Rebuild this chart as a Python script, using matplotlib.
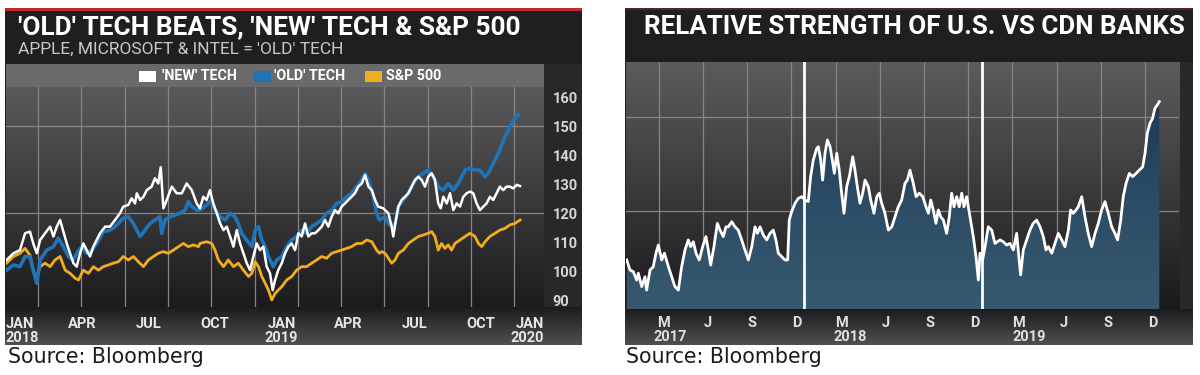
import numpy as np
import matplotlib
matplotlib.use("Agg")
import matplotlib.pyplot as plt
from matplotlib.patches import Rectangle, Polygon
from matplotlib.colors import LinearSegmentedColormap
from matplotlib.transforms import blended_transform_factory

W, H = 1200, 375
NARROW = ['Liberation Sans Narrow', 'Roboto', 'DejaVu Sans']

# ---------------- Left chart data (x = months since 1 Jan 2018) ----------------
new_tech_x = [0.10, 0.40, 0.70, 0.93, 1.15, 1.30, 1.46, 1.61, 1.83, 2.06,
              2.21, 2.36, 2.51, 2.66, 2.81, 2.96, 3.11, 3.26, 3.41, 3.56,
              3.71, 3.86, 4.01, 4.16, 4.31, 4.54, 4.76, 4.99, 5.21, 5.36,
              5.59, 5.74, 5.89, 5.97, 6.12, 6.27, 6.42, 6.64, 6.79, 6.94,
              7.05, 7.17, 7.32, 7.55, 7.77, 8.00, 8.22, 8.45, 8.67,
              8.82, 8.97, 9.12, 9.27, 9.42, 9.58, 9.73, 9.88, 10.03, 10.18,
              10.33, 10.48, 10.63, 10.78, 10.93, 11.08, 11.23, 11.38, 11.53, 11.68,
              11.83, 11.98, 12.10, 12.21, 12.35, 12.51, 12.66, 12.81, 12.96, 13.11,
              13.26, 13.41, 13.56, 13.71, 13.86, 14.01, 14.16, 14.31, 14.46, 14.61,
              14.76, 14.91, 15.06, 15.21, 15.36, 15.51, 15.66, 15.81, 15.96, 16.12,
              16.27, 16.42, 16.57, 16.72, 16.86,
              17.09, 17.32, 17.47, 17.54, 17.66, 17.77, 17.92, 18.07, 18.22, 18.37,
              18.52, 18.67, 18.82, 18.97, 19.12, 19.27, 19.42, 19.57, 19.68, 19.80,
              19.95, 20.10, 20.25, 20.40, 20.55, 20.70, 20.85, 21.00, 21.15, 21.30,
              21.45, 21.60, 21.75, 21.90, 22.05, 22.20, 22.35, 22.50, 22.65, 22.80,
              22.95, 23.11, 23.26]
new_tech_y = [103.8, 106.1, 107.2, 113.0, 113.6, 109.5, 106.1, 110.7, 113.0, 115.3,
              111.9, 115.3, 117.6, 113.6, 109.5, 106.1, 102.7, 101.5, 106.1, 109.5,
              107.2, 105.0, 108.4, 110.7, 113.0, 115.3, 115.3, 117.6, 119.9, 122.2,
              122.8, 125.1, 123.3, 126.8, 124.5, 125.6, 127.9, 129.1, 132.0, 130.2,
              135.8, 121.6, 124.5, 129.1, 126.8, 126.8, 130.2, 127.9, 123.3,
              121.6, 125.6, 124.5, 127.9, 123.3, 119.9, 116.4, 114.1, 115.3, 111.9,
              108.4, 114.1, 109.5, 106.1, 102.7, 100.3, 105.0, 109.5, 107.2, 108.4,
              101.5, 99.2, 93.4, 96.9, 100.3, 102.7, 106.1, 108.4, 109.5, 107.2,
              113.0, 111.9, 116.4, 111.9, 113.0, 113.0, 114.1, 115.3, 117.6, 115.3,
              118.7, 121.0, 119.9, 122.2, 123.3, 124.5, 125.6, 126.8, 129.1, 130.2,
              133.1, 129.1, 127.9, 124.5, 122.2,
              121.6, 119.9, 115.3, 111.9, 117.6, 122.2, 124.5, 125.6, 126.8, 129.1,
              131.4, 132.5, 131.4, 129.1, 132.5, 133.7, 131.4, 123.3, 121.6, 125.6,
              123.3, 126.8, 121.0, 123.3, 122.2, 125.6, 126.8, 127.4, 126.8, 123.3,
              121.0, 122.2, 123.3, 125.6, 124.5, 126.8, 129.1, 127.9, 129.1, 129.1,
              128.5, 129.7, 129.3]

old_tech_x = [0.10, 0.40, 0.70, 0.93, 1.15, 1.30, 1.46, 1.61, 1.91, 2.21,
              2.43, 2.66, 2.89, 3.11, 3.26, 3.49, 3.71, 3.94, 4.16, 4.46,
              4.76, 4.99, 5.21, 5.36, 5.59, 5.82, 5.97, 6.12, 6.34, 6.57,
              6.79, 7.02, 7.09, 7.24, 7.47, 7.69, 7.92, 8.15, 8.30, 8.45,
              8.67,
              8.82, 9.12, 9.35, 9.50, 9.73, 9.95, 10.18, 10.40, 10.55, 10.70,
              10.93, 11.16, 11.31, 11.46, 11.61, 11.76, 11.91, 12.13, 12.28, 12.51,
              12.73, 12.96, 13.18, 13.41, 13.63, 13.86, 14.08, 14.31, 14.53, 14.76,
              14.99, 15.21, 15.44, 15.66, 15.89, 16.12, 16.27, 16.42, 16.64, 16.79,
              16.91,
              17.17, 17.32, 17.47, 17.62, 17.77, 17.99, 18.22, 18.44, 18.67, 18.89,
              19.12, 19.35, 19.57, 19.80, 20.02, 20.25, 20.47, 20.63, 20.78, 21.00,
              21.23, 21.45, 21.68, 21.83, 21.98, 22.13, 22.28, 22.43, 22.58, 22.73,
              22.88, 23.03, 23.18]
old_tech_y = [100.3, 102.1, 101.5, 105.0, 105.0, 100.3, 95.8, 103.8, 107.2, 108.4,
              111.3, 108.4, 105.0, 103.8, 106.1, 108.4, 106.1, 107.2, 109.5, 113.6,
              114.1, 115.3, 117.0, 118.2, 118.7, 116.4, 114.1, 111.9, 114.1, 116.4,
              117.6, 118.7, 113.0, 117.6, 118.7, 119.3, 119.9, 121.0, 123.9, 122.2,
              121.0,
              121.0, 122.8, 124.5, 121.0, 118.7, 117.6, 119.9, 118.7, 116.4, 113.0,
              110.7, 108.4, 114.1, 115.3, 110.7, 108.4, 105.0, 101.5, 103.8, 105.0,
              108.4, 110.7, 111.9, 114.1, 113.0, 115.3, 116.4, 117.6, 119.9, 121.0,
              123.3, 123.9, 125.6, 126.8, 129.1, 131.4, 133.7, 131.4, 125.6, 119.9,
              117.6,
              118.7, 116.4, 115.3, 116.4, 122.2, 124.5, 126.8, 130.2, 132.5, 133.7,
              134.8, 132.5, 129.1, 127.9, 130.2, 127.9, 130.2, 132.5, 134.8, 135.4,
              134.8, 134.8, 132.5, 133.7, 136.0, 138.3, 140.6, 143.4, 146.3, 148.6,
              150.9, 152.6, 153.8]

spx_x = [0.10, 0.40, 0.70, 0.93, 1.15, 1.30, 1.42, 1.61, 1.83, 2.06,
         2.28, 2.51, 2.74, 2.96, 3.19, 3.34, 3.56, 3.79, 4.01, 4.24,
         4.46, 4.69, 4.91, 5.14, 5.36, 5.59, 5.82, 6.04, 6.27, 6.49,
         6.72, 6.94, 7.17, 7.39, 7.62, 7.85, 8.07, 8.30, 8.52, 8.75,
         8.82, 9.12, 9.35, 9.50, 9.65, 9.88, 10.10, 10.33, 10.55, 10.78,
         11.01, 11.16, 11.31, 11.46, 11.61, 11.76, 11.91, 12.06, 12.21, 12.35,
         12.51, 12.73, 12.96, 13.18, 13.41, 13.63, 13.86, 14.08, 14.31, 14.53,
         14.76, 14.99, 15.21, 15.44, 15.66, 15.89, 16.12, 16.34, 16.57, 16.79,
         16.91,
         17.02, 17.17, 17.32, 17.47, 17.62, 17.77, 17.99, 18.22, 18.44, 18.67,
         18.89, 19.12, 19.27, 19.42, 19.57, 19.72, 19.87, 20.02, 20.17, 20.32,
         20.55, 20.78, 21.00, 21.23, 21.38, 21.53, 21.68, 21.90, 22.13, 22.35,
         22.58, 22.80, 23.03, 23.26]
spx_y = [102.7, 105.0, 106.1, 107.8, 105.5, 100.3, 96.9, 101.5, 102.7, 101.5,
         103.8, 105.0, 100.3, 99.2, 97.5, 96.9, 100.3, 99.2, 101.5, 100.3,
         101.5, 102.1, 102.7, 103.2, 105.0, 103.8, 105.0, 103.2, 101.5, 103.8,
         105.0, 106.1, 106.7, 106.1, 107.2, 108.4, 109.5, 108.4, 109.0, 108.4,
         109.5, 110.1, 109.5, 107.2, 103.8, 101.5, 103.8, 101.5, 102.7, 100.3,
         98.1, 99.2, 103.2, 101.5, 98.1, 95.8, 93.4, 90.0, 92.3, 93.4,
         94.6, 96.9, 98.1, 100.3, 101.5, 101.5, 102.7, 103.8, 105.0, 104.4,
         106.1, 106.7, 107.2, 107.8, 108.4, 109.5, 109.5, 110.7, 110.1, 107.2,
         106.1,
         106.7, 106.1, 104.4, 102.7, 103.8, 106.1, 107.2, 109.5, 110.7, 111.9,
         112.4, 113.0, 113.6, 111.9, 107.2, 109.5, 107.8, 109.0, 107.2, 109.5,
         110.7, 111.9, 113.0, 111.9, 109.5, 108.4, 110.1, 111.9, 113.0, 114.1,
         114.7, 115.9, 116.4, 117.6]

left_yticks = [90, 100, 110, 120, 130, 140, 150, 160]
left_xtick_pos = [0.07, 3.5, 6.5, 9.5, 12.5, 15.5, 18.5, 21.5, 24.34]
left_xtick_labels = ["JAN\n2018", "APR", "JUL", "OCT", "JAN\n2019", "APR", "JUL", "OCT", "JAN\n2020"]
legend_labels = ["'NEW' TECH", "'OLD' TECH", "S&P 500"]

# ---------------- Right chart data (x = months since 1 Jan 2017, unlabeled index) ----------------
rs_x = [0.05, 0.27, 0.49, 0.72, 0.83, 1.06, 1.28, 1.39, 1.62, 1.84,
        2.02, 2.18, 2.41, 2.59, 2.86, 3.08, 3.30, 3.53, 3.75, 3.98,
        4.20, 4.36, 4.54, 4.72, 4.94, 5.17, 5.39, 5.55, 5.71, 5.93,
        6.16, 6.34, 6.56, 6.74, 6.90, 7.13, 7.35, 7.57, 7.80, 8.02,
        8.25, 8.48, 8.70, 8.86, 9.04, 9.26, 9.49, 9.71, 9.93, 10.11,
        10.27, 10.50, 10.72, 10.90, 11.01, 11.17, 11.40, 11.62, 11.85, 12.07,
        12.29, 12.45, 12.63, 12.86,
        12.97, 13.13, 13.26, 13.42, 13.58, 13.76, 13.91, 14.05, 14.21, 14.38,
        14.54, 14.70, 14.88, 15.06, 15.29, 15.44, 15.60, 15.78, 15.96, 16.12,
        16.34, 16.50, 16.72, 16.91, 17.08, 17.24, 17.46, 17.69, 17.92, 18.14,
        18.36, 18.59, 18.81, 18.97, 19.15, 19.37, 19.56, 19.78, 20.01, 20.23,
        20.39, 20.55, 20.72, 20.90, 21.06, 21.22, 21.40, 21.62, 21.80, 21.96,
        22.12, 22.30, 22.47, 22.64, 22.79, 22.97, 23.20, 23.42, 23.60, 23.76,
        23.87, 24.05, 24.21, 24.43, 24.66, 24.88,
        25.22, 25.44, 25.67, 25.89, 26.12, 26.34, 26.61, 26.79, 27.02, 27.24,
        27.46, 27.69, 27.92, 28.14, 28.32, 28.48, 28.71, 28.93, 29.15, 29.38,
        29.60, 29.83, 29.98, 30.16, 30.34, 30.50, 30.73, 30.95, 31.17, 31.40,
        31.63, 31.85, 32.07, 32.30, 32.52, 32.75, 32.97, 33.15, 33.36, 33.53,
        33.72, 33.94, 34.17, 34.39, 34.61, 34.84, 35.00, 35.15, 35.33, 35.51,
        35.67, 35.83, 35.96]
rs_y = [18.9, 14.6, 13.9, 10.3, 13.2, 7.5, 11.7, 6.0, 14.6, 16.0,
        21.8, 25.3, 18.9, 21.8, 16.0, 11.7, 7.5, 6.0, 16.0, 23.2,
        27.5, 24.6, 26.7, 21.8, 18.9, 24.6, 28.9, 23.2, 16.7, 24.6,
        34.6, 31.7, 28.9, 33.1, 33.1, 35.3, 33.1, 31.7, 27.5, 23.2,
        18.9, 24.6, 33.1, 30.3, 33.1, 29.6, 27.5, 30.3, 31.7, 27.5,
        21.8, 20.3, 18.9, 18.9, 36.0, 39.6, 43.2, 45.3, 46.0, 44.6,
        43.9, 54.6, 61.7, 66.7,
        67.4, 61.7, 53.1, 64.6, 70.3, 67.4, 61.7, 56.0, 64.6, 57.4,
        47.5, 38.9, 50.3, 54.6, 63.1, 57.4, 50.3, 43.2, 47.5, 53.1,
        50.3, 44.6, 38.9, 46.0, 47.5, 43.2, 38.9, 31.7, 33.1, 37.4,
        41.7, 44.6, 51.7, 53.1, 57.4, 51.7, 46.0, 47.5, 46.0, 41.7,
        38.9, 44.6, 40.3, 34.6, 40.3, 37.4, 36.0, 30.3, 37.4, 47.5,
        41.7, 46.0, 41.7, 47.5, 41.7, 46.0, 37.4, 28.9, 20.3, 10.3,
        21.8, 18.9, 24.6, 33.1, 31.7, 26.0,
        27.5, 26.7, 25.3, 26.0, 23.2, 30.3, 12.5, 23.2, 27.5, 31.7,
        34.6, 36.0, 33.1, 28.9, 23.2, 24.6, 21.8, 26.0, 30.3, 27.5,
        24.6, 31.7, 40.3, 38.9, 40.3, 41.7, 46.0, 37.4, 30.3, 24.6,
        30.3, 34.6, 40.3, 43.9, 38.9, 33.1, 30.3, 27.5, 36.0, 46.0,
        51.7, 56.0, 54.6, 56.0, 57.4, 58.8, 64.6, 73.1, 77.4, 79.6,
        83.9, 85.3, 86.7]
right_month_labels = ["M", "J", "S", "D"] * 3
right_month_pos = [2.5, 5.5, 8.5, 11.5, 14.5, 17.5, 20.5, 23.5, 26.5, 29.5, 32.5, 35.5]
right_year_labels = ["2017", "2018", "2019"]
right_year_pos = [3.0, 15.1, 27.2]
year_breaks = [12, 24]


def rect(x0, y0, x1, y1):
    return [x0 / W, 1 - y1 / H, (x1 - x0) / W, (y1 - y0) / H]


fig = plt.figure(figsize=(W / 100, H / 100), dpi=100)
fig.patch.set_facecolor('white')

bg = fig.add_axes([0, 0, 1, 1], zorder=0)
bg.set_autoscale_on(False)
bg.set_xlim(0, W)
bg.set_ylim(H, 0)
bg.axis('off')


def vgrad(ax, x0, x1, y0, y1, ctop, cbot, z=0.5, transform=None):
    cmap = LinearSegmentedColormap.from_list('g', [ctop, cbot])
    kw = dict(extent=[x0, x1, y1, y0], origin='upper', aspect='auto', cmap=cmap,
              zorder=z, interpolation='bicubic')
    if transform is not None:
        kw['transform'] = transform
    return ax.imshow(np.linspace(0, 1, 256).reshape(-1, 1), **kw)


def box(x0, y0, x1, y1, color, z=0.2):
    bg.add_patch(Rectangle((x0, y0), x1 - x0, y1 - y0, facecolor=color, edgecolor='none', zorder=z))


# ---------- left panel frame ----------
box(5, 8, 582, 345, '#1f1f21')
box(5, 8, 582, 10.5, '#c8262d', z=0.3)
box(6, 64, 544, 87, '#6a6a6a', z=0.3)
box(544, 64, 582, 307, '#28282a', z=0.3)
vgrad(bg, 5, 582, 307, 345, '#1c1c1e', '#505052', z=0.3)

bg.text(18, 27, "'OLD' TECH BEATS, 'NEW' TECH & S&P 500", color='white', fontsize=18.9,
        fontweight='bold', va='center', ha='left', family=NARROW, zorder=3)
bg.text(18, 49, "APPLE, MICROSOFT & INTEL = 'OLD' TECH", color='#c8c8c8', fontsize=12.5,
        va='center', ha='left', family=NARROW, zorder=3)

leg_colors = ['#ffffff', '#1f74b9', '#f2ad1e']
leg_sq_x = [139, 254, 365]
leg_txt_x = [162, 274, 386]
for lab, c, sx, tx in zip(legend_labels, leg_colors, leg_sq_x, leg_txt_x):
    box(sx, 70.5, sx + 17, 81.5, c, z=0.5)
    bg.text(tx, 76, lab, color='white', fontsize=10.3, fontweight='bold', va='center',
            ha='left', family=NARROW, zorder=3)

bg.text(8, 357, "Source: Bloomberg", color='#1a1a1a', fontsize=14.8, va='center', ha='left',
        family=['DejaVu Sans'], zorder=3)

# ---------- left plot ----------
axl = fig.add_axes(rect(6, 87, 544, 307), zorder=2)
axl.set_facecolor('none')
vgrad(axl, 0, 1, 1, 0, '#5a5a5c', '#1b1b1d', z=0, transform=axl.transAxes)
for gx in [1.52 + 1.953 * k for k in range(12)]:
    axl.axvline(gx, color='#858585', lw=0.9, zorder=1)
for gy in [120, 150]:
    axl.axhline(gy, color='#858585', lw=0.9, zorder=1)

axl.plot(spx_x, spx_y, color='#f2ad1e', lw=2.0, zorder=3, solid_joinstyle='round')
axl.plot(old_tech_x, old_tech_y, color='#1f74b9', lw=2.6, zorder=4, solid_joinstyle='round')
axl.plot(new_tech_x, new_tech_y, color='white', lw=1.8, zorder=5, solid_joinstyle='round')

axl.set_xlim(0.072, 24.34)
axl.set_ylim(87.59, 163.45)
for s in axl.spines.values():
    s.set_visible(False)
axl.yaxis.tick_right()
axl.set_yticks(left_yticks)
axl.set_yticklabels([str(v) for v in left_yticks], family=NARROW, fontweight='bold')
axl.tick_params(axis='y', length=0, pad=6, labelcolor='#d6d6d6', labelsize=10.5)
axl.set_xticks(left_xtick_pos)
axl.set_xticklabels(left_xtick_labels, family=NARROW, fontweight='bold')
axl.tick_params(axis='x', length=0, pad=7, labelcolor='#e6e6e6', labelsize=10.5)
xl = axl.get_xticklabels()
for t in xl:
    t.set_linespacing(1.05)
xl[0].set_ha('left'); xl[0].set_multialignment('left')
xl[-1].set_ha('right'); xl[-1].set_multialignment('right')

# ---------- right panel frame ----------
box(625, 8, 1193, 345, '#1f1f21')
box(625, 8, 1193, 10, '#5a2222', z=0.3)
box(1179, 62, 1193, 309, '#29292b', z=0.3)
vgrad(bg, 625, 1193, 309, 345, '#1c1c1e', '#505052', z=0.3)
bg.text(644, 27, "RELATIVE STRENGTH OF U.S. VS CDN BANKS", color='white', fontsize=18.7,
        fontweight='bold', va='center', ha='left', family=NARROW, zorder=3)
bg.text(626, 357, "Source: Bloomberg", color='#1a1a1a', fontsize=14.8, va='center', ha='left',
        family=['DejaVu Sans'], zorder=3)

axr = fig.add_axes(rect(626, 62, 1179, 309), zorder=2)
axr.set_facecolor('none')
xr0, xr1, yr0, yr1 = 0.0, 37.29, -2.1, 103.7
vgrad(axr, 0, 1, 1, 0, '#5c5c5e', '#1a1a1c', z=0, transform=axr.transAxes)
for gx in [2.22 + 2.98 * k for k in range(12)]:
    axr.axvline(gx, color='#858585', lw=0.9, zorder=1)
for gy in [40, 80]:
    axr.axhline(gy, color='#858585', lw=0.9, zorder=1)

verts = [(rs_x[0], yr0)] + list(zip(rs_x, rs_y)) + [(rs_x[-1], yr0)]
poly = Polygon(verts, closed=True, facecolor='none', edgecolor='none')
axr.add_patch(poly)
fill_cmap = LinearSegmentedColormap.from_list('f', ['#1a3048', '#2a4a63', '#37596f'])
img = axr.imshow(np.linspace(0, 1, 256).reshape(-1, 1), extent=[xr0, xr1, yr0, yr1],
                 origin='upper', aspect='auto', cmap=fill_cmap, zorder=2)
img.set_clip_path(poly)
for yb in year_breaks:
    axr.axvline(yb, color='white', lw=2.0, zorder=4)
axr.plot(rs_x, rs_y, color='white', lw=2.0, zorder=5, solid_joinstyle='round')

axr.set_xlim(xr0, xr1)
axr.set_ylim(yr0, yr1)
for s in axr.spines.values():
    s.set_visible(False)
axr.set_yticks([])
axr.set_xticks(right_month_pos)
axr.set_xticklabels(right_month_labels, family=NARROW, fontweight='bold')
axr.tick_params(axis='x', length=0, pad=5, labelcolor='#e0e0e0', labelsize=10.5)
tr = blended_transform_factory(axr.transData, bg.transData)
for lab, xp in zip(right_year_labels, right_year_pos):
    axr.text(xp, 337, lab, transform=tr, color='#e0e0e0', fontsize=10.5, fontweight='bold',
             ha='center', va='center', family=NARROW, clip_on=False)

fig.savefig('out.png', dpi=100, facecolor='white')
